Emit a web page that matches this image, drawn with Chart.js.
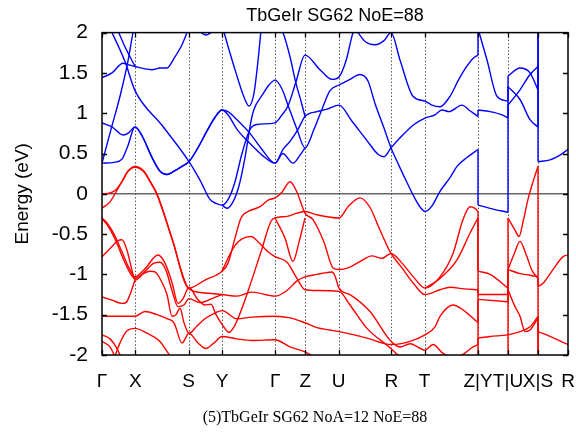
<!DOCTYPE html>
<html><head><meta charset="utf-8">
<script src="https://cdn.jsdelivr.net/npm/chart.js@4.4.1/dist/chart.umd.min.js"></script>
<style>
html,body{margin:0;padding:0;background:#fff;}
#wrap{position:relative;width:576px;height:437px;}
#caption{position:absolute;left:0;width:630px;top:408px;text-align:center;font-family:"Liberation Serif",serif;font-size:16px;color:#000;white-space:nowrap;}
</style></head><body>
<div id="wrap"><canvas id="c" width="576" height="437"></canvas><div id="caption">(5)TbGeIr SG62 NoA=12 NoE=88</div></div>
<script>
// ---- data: k-path positions, labels, energies (eV) ----
const titleText = "TbGeIr SG62 NoE=88";
const kTicks  = [0, 33.3, 86.6, 120, 173.3, 203.3, 236.6, 289.3, 322.6, 376, 406, 436, 466];
const kLabels = ["\u0393","X","S","Y","\u0393","Z","U","R","T","Z|Y","T|U","X|S","R"];
const eTicks  = [-2,-1.5,-1,-0.5,0,0.5,1,1.5,2];

// valence bands (red)
const vb0 = [[0,0],[8,0.01],[14,0.05],[20,0.15],[26,0.28],[33,0.34],[42,0.28],[48,0.16],[55,0],[70,-0.55],[87,-1.17],[103,-1.07],[120,-0.96],[126,-0.86],[133,-0.55],[139,-0.3],[146,-0.22],[158,-0.16],[166,-0.08],[173,-0.05],[180,0.02],[188,0.15],[195,0.02],[203,-0.24],[211,-0.32],[222,-0.6],[231,-0.92],[237,-0.94],[246,-0.92],[258,-0.84],[270,-0.77],[280,-0.8],[289,-0.74],[300,-0.86],[312,-1.04],[323,-1.17],[338,-1.03],[351,-0.74],[361,-0.32],[368,-0.16],[373,-0.18],[376,-0.22],[376,-0.96],[388,-1.0],[406,-1.17],[406,-0.3],[413,-0.45],[417,-0.53],[421,-0.35],[426,-0.07],[431,0.15],[436,0.34],[436,-2.1]];
const vb1 = [[0,-0.18],[8,-0.1],[18,0.11],[26,0.28],[33,0.33],[42,0.27],[48,0.15],[55,-0.01],[70,-0.56],[87,-1.18],[103,-1.23],[120,-1.25],[135,-1.27],[150,-1.22],[173,-1.27],[185,-1.2],[195,-1.08],[203,-1.03],[215,-1.0],[230,-0.97],[233,-1.02],[237,-1.17],[248,-1.25],[268,-1.46],[289,-1.83],[298,-1.9],[308,-1.86],[323,-1.94],[331,-1.87],[341,-1.98],[350,-2.02],[360,-2.0],[371,-1.9],[376,-1.87],[376,-1.79],[388,-1.77],[406,-1.75],[418,-1.71],[428,-1.65],[436,-1.52],[436,-1.71],[448,-1.77],[466,-1.87]];
const vb2 = [[0,-0.3],[5,-0.36],[12,-0.5],[20,-0.72],[27,-0.92],[33,-1.03],[43,-0.93],[56,-0.76],[63,-0.86],[70,-1.1],[76,-1.36],[81,-1.3],[87,-1.16],[95,-1.3],[103,-1.38],[109,-1.37],[114,-1.5],[120,-1.62],[127,-1.72],[133,-1.63],[140,-1.42],[146,-1.21],[159,-0.72],[169,-0.34],[173,-0.3],[185,-0.28],[195,-0.24],[203,-0.22],[215,-0.26],[237,-0.3],[246,-0.16],[258,-0.05],[268,-0.17],[278,-0.45],[289,-0.74],[300,-0.92],[312,-1.12],[323,-1.25],[338,-1.19],[348,-1.16],[362,-1.18],[376,-1.19],[376,-1.25],[406,-1.25],[406,-0.94],[412,-0.75],[418,-0.59],[424,-0.75],[430,-0.95],[436,-1.05],[436,-1.15],[441,-1.11],[451,-0.94],[461,-0.78],[466,-0.76]];
const vb3 = [[0,-0.31],[6,-0.4],[13,-0.56],[21,-0.8],[28,-0.98],[33,-1.05],[40,-1.0],[48,-0.96],[53,-0.97],[60,-1.1],[65,-1.25],[70,-1.52],[74,-1.5],[78,-1.42],[82,-1.6],[87,-1.73],[95,-1.64],[103,-1.55],[110,-1.5],[120,-1.45],[135,-1.55],[150,-1.53],[173,-1.52],[188,-1.54],[203,-1.6],[215,-1.66],[228,-1.69],[237,-1.71],[265,-1.79],[289,-1.87],[308,-1.83],[323,-1.75],[333,-1.65],[338,-1.52],[351,-1.38],[361,-1.44],[376,-1.6],[376,-1.31],[406,-1.34],[406,-1.19],[413,-1.4],[418,-1.52],[423,-1.71],[428,-1.69],[436,-1.54],[436,-2.1]];
const vb4 = [[0,-0.78],[8,-0.68],[16,-0.58],[20,-0.57],[25,-0.7],[30,-0.95],[33,-1.07],[44,-0.95],[52,-0.86],[58,-0.85],[64,-0.95],[70,-1.2],[76,-1.4],[82,-1.38],[87,-1.3],[98,-1.35],[110,-1.3],[120,-1.25]];
const vb5 = [[0,-1.28],[10,-1.32],[20,-1.36],[24,-1.35],[28,-1.25],[33,-1.07]];
const vb6 = [[0,-1.52],[15,-1.52],[33,-1.52],[43,-1.46],[55,-1.5],[65,-1.55],[72,-1.6],[80,-1.85],[87,-1.73],[96,-1.85],[104,-1.92],[112,-1.85],[120,-1.77],[135,-1.8],[150,-1.82],[173,-1.81],[188,-1.9],[203,-1.96],[215,-2.05]];
const vb7 = [[12,-2.05],[18,-1.85],[25,-1.7],[33,-1.67],[45,-1.73],[57,-1.82],[70,-2.05]];
const vb8 = [[0,-1.75],[8,-1.8],[14,-1.9],[20,-2.05]];
const vb9 = [[0,-1.83],[8,-1.9],[14,-2.05]];
const vb10 = [[120,-0.96],[126,-0.8],[133,-0.64],[140,-0.56],[149,-0.53],[158,-0.62],[166,-0.72],[173,-0.78],[185,-0.85],[195,-1.05],[203,-1.19],[215,-1.2],[237,-1.21],[248,-1.38],[265,-1.67],[288,-1.91],[300,-2.05]];
const vb11 = [[173,-0.3],[183,-0.55],[191,-0.84],[197,-0.6],[203,-0.3]];
const vb12 = [[323,-1.17],[338,-1.05],[355,-0.82],[368,-0.49],[376,-0.3],[376,-2.1]];
const vb13 = [[406,-2.1],[406,-0.94],[418,-0.99],[428,-1.01],[436,-1.03]];

// conduction bands (blue)
const cb0 = [[0,0.38],[12,0.39],[20,0.43],[26,0.6],[33,0.83],[40,0.72],[50,0.45],[58,0.28],[65,0.24],[72,0.28],[80,0.34],[87,0.4],[95,0.55],[105,0.78],[113,0.95],[120,1.04],[126,1.02],[135,0.92],[148,0.75],[160,0.55],[173,0.38],[181,0.5],[184,0.47],[191,0.38],[198,0.48],[203,0.57]];
const cb1 = [[0,0.88],[10,0.83],[21,0.73],[27,0.76],[33,0.83],[40,0.72],[50,0.45],[58,0.28],[65,0.24],[72,0.28],[80,0.34],[87,0.4],[95,0.55],[105,0.78],[113,0.95],[120,1.04],[126,0.98],[135,0.8],[150,0.6],[160,0.48],[173,0.38],[181,0.55],[188,0.65],[196,0.8],[203,0.96],[215,1.02],[225,1.05],[237,1.1],[250,0.9],[265,0.66],[276,0.49],[282,0.46],[289,0.57],[300,0.72],[312,0.86],[323,0.94],[333,0.98],[340,1.04],[347,1.02],[360,1.1],[368,1.03],[376,0.96],[376,1.04],[388,1.02],[400,0.98],[406,0.94],[406,1.1],[418,1.29],[428,1.48],[436,1.58],[436,0.4],[448,0.42],[458,0.48],[466,0.55]];
const cb2 = [[8,2.05],[10,2.0],[23,1.64],[33,1.28],[60,0.85],[87,0.4],[98,0.17],[108,-0.07],[114,-0.12],[120,-0.14],[127,-0.05],[133,0.15],[140,0.5],[148,0.8],[155,0.86],[173,0.88],[180,0.98],[186,1.09],[194,1.39],[203,1.72],[218,1.54],[230,1.42],[237,1.45],[244,1.65],[251,2.0],[253,2.05]];
const cb3 = [[120,-0.14],[125,-0.18],[131,-0.1],[137,0.1],[143,0.45],[149,0.9],[152,1.05],[160,1.22],[167,1.35],[173,1.41],[180,1.3],[186,1.1],[195,0.8],[203,0.57],[212,0.8],[220,1.05],[228,1.28],[237,1.35],[248,1.42],[258,1.48],[266,1.4],[273,1.12],[281,0.85],[289,0.57],[297,0.35],[305,0.14],[313,-0.06],[319,-0.18],[323,-0.22],[330,-0.15],[338,0.03],[348,0.2],[355,0.34],[365,0.45],[376,0.55],[376,-0.14],[388,-0.18],[406,-0.23],[406,1.46],[418,1.56],[428,1.5],[436,1.29],[436,2.1]];
const cb4 = [[179,2.05],[181,2.0],[188,1.7],[194,1.37],[199,1.15],[203,0.96]];
const cb5 = [[250,2.1],[256,2.0],[264,1.88],[273,1.85],[282,1.9],[289,2.0],[298,1.66],[311,1.21],[323,1.15],[330,1.1],[338,1.08],[348,1.21],[356,1.4],[363,1.55],[371,1.68],[376,1.72],[376,2.05],[385,1.66],[395,1.21],[406,1.15],[406,1.33],[418,1.17],[428,0.92],[436,0.83],[436,2.1]];
const cb6 = [[0,1.44],[10,1.5],[21,1.62],[27,1.6],[33,1.58],[43,1.55],[50,1.54],[58,1.56],[65,1.56],[72,1.68],[80,1.85],[85,2.0],[88,2.1]];
const cb7 = [[0,0.38],[9,0.8],[18,1.21],[26,1.65],[31,2.0],[32,2.05]];
const cb8 = [[15,2.05],[22,1.85],[28,1.7],[33,1.58]];
const cb9 = [[96,2.03],[104,1.97],[112,2.03]];
const cb10 = [[121,2.05],[126,1.83],[134,1.5],[142,1.2],[147,1.09],[152,1.25],[156,1.65],[159,2.03]];

const valenceBands = [vb0,vb1,vb2,vb3,vb4,vb5,vb6,vb7,vb8,vb9,vb10,vb11,vb12,vb13];
const conductionBands = [cb0,cb1,cb2,cb3,cb4,cb5,cb6,cb7,cb8,cb9,cb10];

// ---- build datasets (split at path discontinuities) ----
const datasets = [];
function pushPiece(pts, color, smooth){
  datasets.push({
    data: pts.map(p => ({x:p[0], y:p[1]})),
    borderColor: color, borderWidth: 1.4, pointRadius: 0, fill: false,
    cubicInterpolationMode: smooth ? 'monotone' : 'default', tension: 0
  });
}
function addBand(points, color){
  let piece = [points[0]];
  for (let i = 1; i < points.length; i++){
    const p = points[i], q = points[i-1];
    if (p[0] === q[0]) {
      if (piece.length > 1) pushPiece(piece, color, true);
      pushPiece([q, p], color, false);
      piece = [p];
    } else piece.push(p);
  }
  if (piece.length > 1) pushPiece(piece, color, true);
}
valenceBands.forEach(b => addBand(b, '#ff0000'));
conductionBands.forEach(b => addBand(b, '#0000ff'));

const framePlugin = {
  id: 'frame',
  beforeDatasetsDraw(chart){
    const {ctx, chartArea:a, scales:{x, y}} = chart;
    ctx.save();
    ctx.strokeStyle = '#555'; ctx.lineWidth = 1; ctx.setLineDash([1.5, 2]);
    kTicks.slice(1, -1).forEach(v => {
      const px = Math.round(x.getPixelForValue(v)) + 0.5;
      ctx.beginPath(); ctx.moveTo(px, a.top); ctx.lineTo(px, a.bottom); ctx.stroke();
    });
    ctx.setLineDash([]);
    const py = y.getPixelForValue(0);
    ctx.strokeStyle = '#666'; ctx.lineWidth = 1.6;
    ctx.beginPath(); ctx.moveTo(a.left, py); ctx.lineTo(a.right, py); ctx.stroke();
    ctx.restore();
  },
  afterDatasetsDraw(chart){
    const {ctx, chartArea:a, scales:{x, y}} = chart;
    ctx.save();
    ctx.strokeStyle = '#000'; ctx.lineWidth = 1.3;
    eTicks.forEach(v => {
      const py = Math.round(y.getPixelForValue(v)) + 0.5;
      ctx.beginPath(); ctx.moveTo(a.left, py); ctx.lineTo(a.left + 5, py);
      ctx.moveTo(a.right, py); ctx.lineTo(a.right - 5, py); ctx.stroke();
    });
    kTicks.forEach(v => {
      const px = Math.round(x.getPixelForValue(v)) + 0.5;
      ctx.beginPath(); ctx.moveTo(px, a.bottom); ctx.lineTo(px, a.bottom - 5);
      ctx.moveTo(px, a.top); ctx.lineTo(px, a.top + 5); ctx.stroke();
    });
    ctx.lineWidth = 1.5;
    ctx.strokeRect(a.left, a.top, a.right - a.left, a.bottom - a.top);
    ctx.restore();
  }
};

new Chart(document.getElementById('c'), {
  type: 'line',
  data: { datasets },
  options: {
    responsive: false, animation: false, devicePixelRatio: 1,
    layout: { padding: { left: 0, right: 8, top: 0, bottom: 0 } },
    plugins: {
      legend: { display: false }, tooltip: { enabled: false },
      title: { display: true, text: titleText, fullSize: false, color: '#000',
        font: { family: 'Liberation Sans', size: 18, weight: 'normal' }, padding: { top: 5, bottom: 6 } }
    },
    scales: {
      x: {
        type: 'linear', min: 0, max: 466,
        afterBuildTicks: s => { s.ticks = kTicks.map(v => ({ value: v })); },
        afterFit: s => { s.height = 82; s.paddingLeft = 0; s.paddingRight = 0; },
        grid: { display: false, drawTicks: false }, border: { display: false },
        ticks: { autoSkip: false, maxRotation: 0, minRotation: 0, padding: 15, color: '#000',
          font: { family: 'Liberation Sans', size: 19 }, callback: (v, i) => kLabels[i] }
      },
      y: {
        type: 'linear', min: -2, max: 2,
        afterBuildTicks: s => { s.ticks = eTicks.map(v => ({ value: v })); },
        afterFit: s => { s.width = 102; s.paddingTop = 0; s.paddingBottom = 0; },
        grid: { display: false, drawTicks: false }, border: { display: false },
        ticks: { padding: 14, color: '#000', font: { family: 'Liberation Sans', size: 21 },
          callback: v => String(v) },
        title: { display: true, text: 'Energy (eV)', color: '#000',
          font: { family: 'Liberation Sans', size: 19 }, padding: { top: 11, bottom: 0 } }
      }
    }
  },
  plugins: [framePlugin]
});
</script></body></html>
